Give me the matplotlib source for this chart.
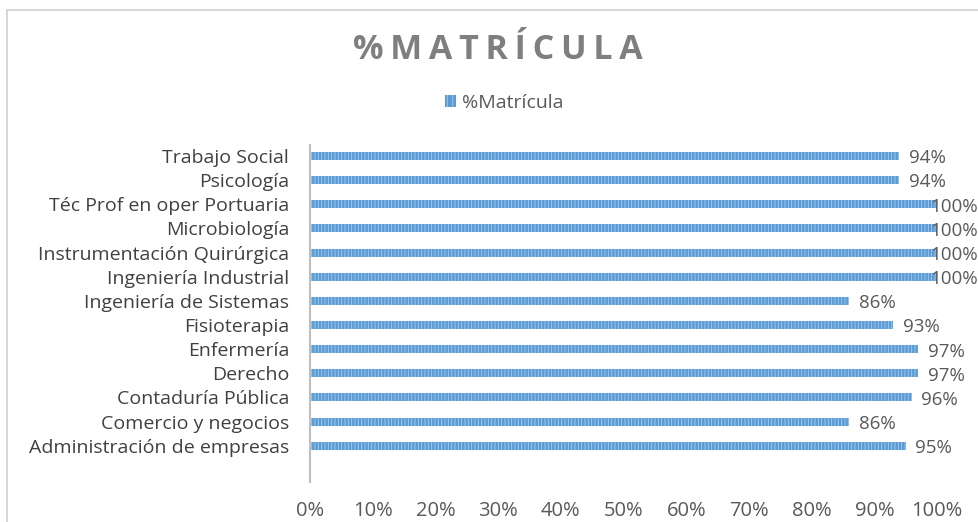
import matplotlib.pyplot as plt
from matplotlib.lines import Line2D
from matplotlib.patches import Patch
from matplotlib.ticker import PercentFormatter

plt.rcParams['font.family'] = ['Open Sans', 'DejaVu Sans']
plt.rcParams['hatch.linewidth'] = 0.6

# datos (de abajo hacia arriba)
programas = ['Administración de empresas', 'Comercio y negocios', 'Contaduría Pública',
             'Derecho', 'Enfermería', 'Fisioterapia', 'Ingeniería de Sistemas',
             'Ingeniería Industrial', 'Instrumentación Quirúrgica', 'Microbiología',
             'Téc Prof en oper Portuaria', 'Psicología', 'Trabajo Social']
matricula = [95, 86, 96, 97, 97, 93, 86, 100, 100, 100, 100, 94, 94]
xticks = [0, 10, 20, 30, 40, 50, 60, 70, 80, 90, 100]

text_gray = '#595959'
bar_color = '#5b9bd5'

fig = plt.figure(figsize=(9.79, 5.22), dpi=100)
ax = fig.add_axes([0.3167, 0.0766, 0.6405, 0.6456])

y = list(range(len(programas)))
ax.barh(y, matricula, height=0.33, color=bar_color, edgecolor='#a9cdf0',
        hatch='|||||', linewidth=0)

# etiquetas de valor (las de 100% se meten un poco para no salirse)
for yi, v in zip(y, matricula):
    ax.text(min(v + 1.5, 98.9), yi - 0.1, f'{v}%', va='center', ha='left',
            fontsize=13.5, color=text_gray)

ax.set_xlim(0, 100)
ax.set_ylim(-1.5, 12.45)
ax.set_yticks(y)
ax.set_yticklabels(programas, fontsize=14, color='#404040')
ax.set_xticks(xticks)
ax.xaxis.set_major_formatter(PercentFormatter(decimals=0))
ax.tick_params(axis='x', length=0, pad=14, labelsize=14.5, labelcolor=text_gray)
ax.tick_params(axis='y', length=0, pad=15)

for s in ['top', 'right', 'bottom']:
    ax.spines[s].set_visible(False)
ax.spines['left'].set_color('#bfbfbf')
ax.spines['left'].set_linewidth(1.5)

titulo = '\u2009'.join('%MATRÍCULA')
fig.text(0.509, 0.905, titulo, ha='center', va='center',
         fontsize=24.5, fontweight='bold', color='#7f7f7f')

handle = Patch(facecolor=bar_color, edgecolor='#a9cdf0', hatch='|||', linewidth=0)
fig.legend([handle], ['%Matrícula'], loc='center', bbox_to_anchor=(0.515, 0.803),
           frameon=False, fontsize=14, labelcolor=text_gray,
           handlelength=0.6, handleheight=0.6, handletextpad=0.3)

# marco del gráfico
fig.add_artist(Line2D([0.007, 0.007], [0, 0.981], color='#d0d0d0', lw=1.2))
fig.add_artist(Line2D([0.007, 1.0], [0.981, 0.981], color='#d0d0d0', lw=1.2))

fig.savefig('out.png', dpi=100)
